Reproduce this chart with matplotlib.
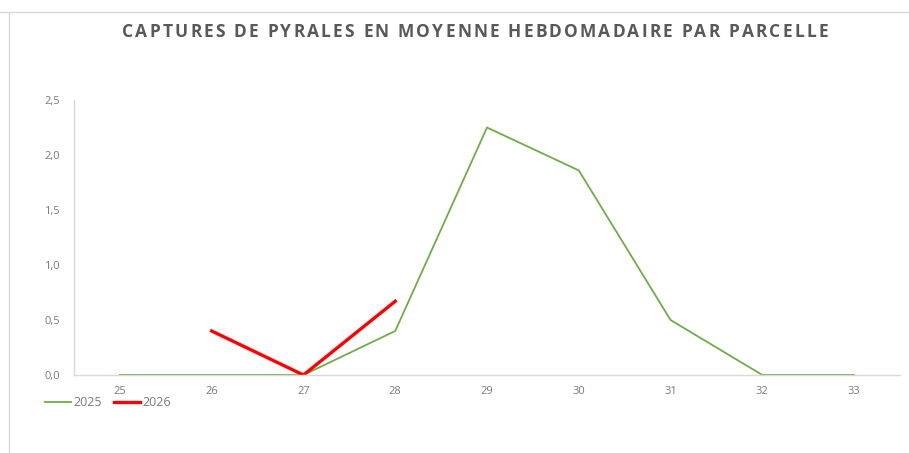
import matplotlib.pyplot as plt
from matplotlib.lines import Line2D

weeks = ['25', '26', '27', '28', '29', '30', '31', '32', '33']
captures_2025 = [0, 0, 0, 0.4, 2.25, 1.86, 0.5, 0, 0]
captures_2026 = [None, 0.4, 0, 0.67, None, None, None, None, None]
y_ticks = [0, 0.5, 1.0, 1.5, 2.0, 2.5]
y_labels = ['0,0', '0,5', '1,0', '1,5', '2,0', '2,5']
title = 'CAPTURES DE PYRALES EN MOYENNE HEBDOMADAIRE PAR PARCELLE'

grey = '#595959'
tick_grey = '#7a7a7a'
axis_grey = '#d9d9d9'

plt.rcParams['font.family'] = ['Open Sans', 'DejaVu Sans']

fig = plt.figure(figsize=(9.09, 4.53), dpi=100)
ax = fig.add_axes([74 / 909, 1 - 375 / 453, 826 / 909, 275 / 453])

x = list(range(len(weeks)))
y26 = [float('nan') if v is None else v for v in captures_2026]
ax.plot(x, captures_2025, color='#70ad47', lw=1.3, label='2025')
ax.plot(x, y26, color='#ff0000', lw=2.4, label='2026')

ax.set_xlim(-0.5, len(weeks) - 0.5)
ax.set_ylim(0, 2.5)
ax.set_xticks(x)
ax.set_xticklabels(weeks)
ax.set_yticks(y_ticks)
ax.set_yticklabels(y_labels)
ax.tick_params(length=0, colors=tick_grey, labelsize=8)
ax.tick_params(axis='x', pad=8)
ax.tick_params(axis='y', pad=10)
for s in ['top', 'right']:
    ax.spines[s].set_visible(False)
for s in ['left', 'bottom']:
    ax.spines[s].set_color(axis_grey)
    ax.spines[s].set_linewidth(1)

# title with a little letter spacing, laid out char by char between x=122 and x=828 px
renderer = fig.canvas.get_renderer()
chars = []
widths = []
for c in title:
    t = fig.text(0, 1 - 32 / 453, c, ha='left', va='center', fontsize=12.5,
                 fontweight='bold', color=grey)
    w = t.get_window_extent(renderer).width if c != ' ' else 4.5
    chars.append(t)
    widths.append(w)
gap = (706 - sum(widths)) / (len(title) - 1)
pos = 122
for t, w in zip(chars, widths):
    t.set_x(pos / 909)
    pos += w + gap

handles = [Line2D([], [], color='#70ad47', lw=1.3), Line2D([], [], color='#ff0000', lw=2.4)]
fig.legend(handles, ['2025', '2026'], loc='center left', bbox_to_anchor=(45 / 909, 1 - 403 / 453),
           ncol=2, frameon=False, fontsize=9, labelcolor=tick_grey, handlelength=2.1,
           handletextpad=0.2, columnspacing=0.9, borderaxespad=0, borderpad=0)

# chart frame edges visible in the screenshot
fig.add_artist(Line2D([0, 1], [1 - 11.5 / 453] * 2, transform=fig.transFigure, color=axis_grey, lw=1))
fig.add_artist(Line2D([9 / 909] * 2, [0, 1 - 11.5 / 453], transform=fig.transFigure, color=axis_grey, lw=1))

fig.savefig('out.png', dpi=100)
